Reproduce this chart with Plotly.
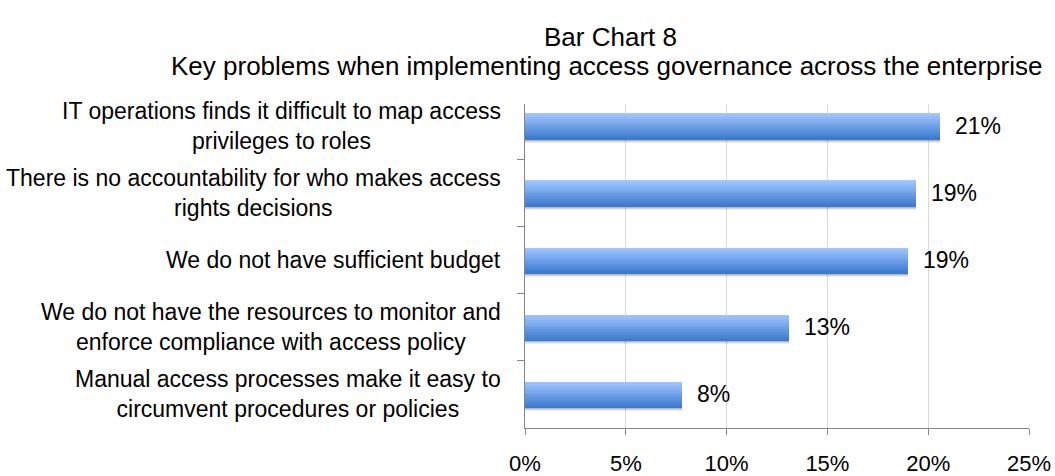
import plotly.graph_objects as go

# Survey responses (share of respondents)
categories = [
    "IT operations finds it difficult to map access<br>privileges to roles",
    "There is no accountability for who makes access<br>rights decisions",
    "We do not have sufficient budget",
    "We do not have the resources to monitor and<br>enforce compliance with access policy",
    "Manual access processes make it easy to<br>circumvent procedures or policies",
]
values = [20.6, 19.4, 19.0, 13.1, 7.8]
x_ticks = [0, 5, 10, 15, 20, 25]
x_tick_labels = ["0%", "5%", "10%", "15%", "20%", "25%"]
title_text = "Bar Chart 8"
subtitle_text = "Key problems when implementing access governance across the enterprise"

FONT = "Liberation Sans, Arial, sans-serif"
BAR_W = 0.385          # bar thickness in category units
N_STRIPS = 14          # vertical gradient built from thin overlaid strips
TOP_RGB = (160, 197, 255)
BOT_RGB = (60, 123, 207)


def mix(a, b, t):
    return "rgb(%d,%d,%d)" % tuple(round(a[i] + (b[i] - a[i]) * t) for i in range(3))


fig = go.Figure()

# soft shadow under each bar
for k, (dy, op) in enumerate([(0.05, 0.10), (0.035, 0.16), (0.02, 0.22)]):
    fig.add_trace(go.Bar(
        x=values, y=categories, orientation="h",
        width=BAR_W, offset=-BAR_W / 2 + dy,
        marker=dict(color="rgba(80,80,80,%.2f)" % op, line=dict(width=0)),
        hoverinfo="skip", showlegend=False,
    ))

# gradient bars
strip = BAR_W / N_STRIPS
for i in range(N_STRIPS):
    t = i / (N_STRIPS - 1)
    fig.add_trace(go.Bar(
        x=values, y=categories, orientation="h",
        width=strip * 1.15, offset=-BAR_W / 2 + i * strip,
        marker=dict(color=mix(TOP_RGB, BOT_RGB, t), line=dict(width=0)),
        hoverinfo="skip", showlegend=False,
    ))

annotations = []
# value labels
for cat, v in zip(categories, values):
    annotations.append(dict(
        x=v, y=cat, xref="x", yref="y", text="%.0f%%" % v,
        showarrow=False, xanchor="left", yanchor="middle", xshift=13,
        font=dict(family=FONT, size=23, color="#000000"),
    ))
# category labels, centred lines, right-aligned block
for cat in categories:
    annotations.append(dict(
        x=0, y=cat, xref="paper", yref="y", text=cat,
        showarrow=False, xanchor="right", yanchor="middle", xshift=-22,
        align="center", font=dict(family=FONT, size=23, color="#000000"),
    ))
# titles
annotations.append(dict(
    x=0.169, y=1.2083, xref="paper", yref="paper", text=title_text,
    showarrow=False, xanchor="center", yanchor="middle",
    font=dict(family=FONT, size=26, color="#000000"),
))
annotations.append(dict(
    x=0.161, y=1.1188, xref="paper", yref="paper", text=subtitle_text,
    showarrow=False, xanchor="center", yanchor="middle",
    font=dict(family=FONT, size=26, color="#000000"),
))

fig.update_layout(
    width=1055, height=476,
    margin=dict(l=525, r=26, t=104, b=48),
    paper_bgcolor="white", plot_bgcolor="white",
    barmode="overlay", bargap=0,
    showlegend=False,
    annotations=annotations,
    xaxis=dict(
        range=[0, 25], tickvals=x_ticks, ticktext=x_tick_labels,
        showgrid=True, gridcolor="#D9D9D9", gridwidth=1,
        showline=True, linecolor="#868686", linewidth=1,
        ticks="outside", ticklen=6, tickcolor="#868686",
        ticklabelstandoff=10, automargin=False,
        tickfont=dict(family=FONT, size=22, color="#000000"),
        zeroline=False, fixedrange=True,
    ),
    yaxis=dict(
        type="category", categoryorder="array", categoryarray=categories,
        range=[4.5, -0.333], automargin=False,
        showticklabels=False, showgrid=False,
        showline=True, linecolor="#868686", linewidth=1,
        ticks="outside", ticklen=7, tickcolor="#868686",
        tickson="boundaries", zeroline=False, fixedrange=True,
    ),
)

fig.write_html("out.html")
